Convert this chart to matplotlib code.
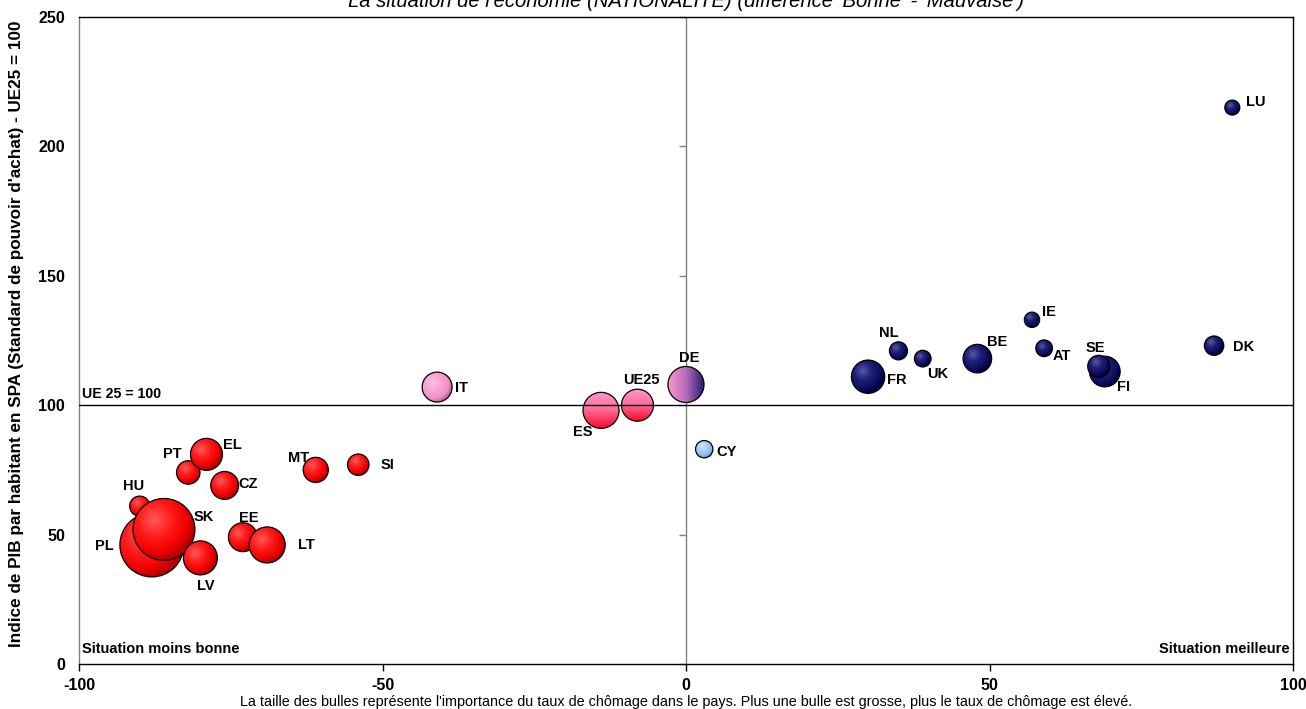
import numpy as np
import matplotlib
matplotlib.use("Agg")
import matplotlib.pyplot as plt
from matplotlib.patches import Ellipse
from matplotlib.colors import to_rgb

plt.rcParams['font.family'] = ['Liberation Sans', 'DejaVu Sans']

# ---------------- data ----------------
countries = ['HU', 'PL', 'SK', 'LV', 'EE', 'LT', 'CZ', 'PT', 'EL', 'MT', 'SI',
             'IT', 'ES', 'UE25', 'DE', 'CY', 'FR', 'NL', 'UK', 'BE', 'IE',
             'AT', 'FI', 'SE', 'DK', 'LU']
economy_diff = [-90, -88, -86, -80, -73, -69, -76, -82, -79, -61, -54,
                -41, -14, -8, 0, 3, 30, 35, 39, 48, 57,
                59, 69, 68, 87, 90]
gdp_index = [61, 46, 52, 41, 49, 46, 69, 74, 81, 75, 77,
             107, 98, 100, 108, 83, 111, 121, 118, 118, 133,
             122, 113, 115, 123, 215]
unemployment = [5.9, 18.8, 18.2, 10.0, 8.5, 10.6, 8.2, 6.9, 9.4, 7.4, 6.3,
                8.8, 10.6, 9.4, 10.6, 5.1, 9.8, 5.3, 4.9, 8.4, 4.5,
                4.9, 9.0, 6.5, 5.7, 4.4]
groups = ['red'] * 11 + ['pink', 'pinkred', 'pinkred', 'pinknavy', 'lightblue'] + ['navy'] * 10

xticks = [-100, -50, 0, 50, 100]
yticks = [0, 50, 100, 150, 200, 250]

title = "La situation de l'économie (NATIONALITE) (différence 'Bonne' - 'Mauvaise')"
ylabel = "Indice de PIB par habitant en SPA (Standard de pouvoir d'achat) - UE25 = 100"
caption = ("La taille des bulles représente l'importance du taux de chômage dans le pays. "
           "Plus une bulle est grosse, plus le taux de chômage est élevé.")

# ---------------- label offsets (pixels) ----------------
label_offsets = {
    'LU': (23, 6), 'DK': (30, -1), 'IE': (17, 8), 'AT': (18, -8), 'SE': (-3, 18),
    'FI': (19, -15), 'BE': (20, 17), 'UK': (15, -15), 'NL': (-10, 18), 'FR': (29, -3),
    'CY': (22, -3), 'DE': (3, 26), 'UE25': (4, 25), 'ES': (-18, -22), 'IT': (24, -1),
    'SI': (29, 0), 'MT': (-17, 12), 'EL': (26, 9), 'PT': (-16, 18), 'CZ': (23, 1),
    'HU': (-6, 20), 'SK': (40, 12), 'PL': (-47, -1), 'LV': (5, -28), 'EE': (6, 19),
    'LT': (39, 0),
}

DPI = 100
fig = plt.figure(figsize=(13.06, 7.09), dpi=DPI)
ax = fig.add_axes([79 / 1306, 1 - 664 / 709, (1293 - 79) / 1306, (664 - 17) / 709])
ax.set_xlim(-100, 100)
ax.set_ylim(0, 250)

bbox = ax.get_window_extent()
px_per_x = bbox.width / 200.0
px_per_y = bbox.height / 250.0
PX_PER_UNIT = 1.7  # bubble radius in pixels per unit of unemployment


def lerp_stops(t, stops):
    t = np.clip(t, 0, 1)
    out = np.zeros(t.shape + (3,))
    pos = [s[0] for s in stops]
    cols = [np.array(to_rgb(s[1])) for s in stops]
    for c in range(3):
        out[..., c] = np.interp(t, pos, [col[c] for col in cols])
    return out


N = 120
uu, vv = np.meshgrid(np.linspace(-1, 1, N), np.linspace(-1, 1, N))


def radial(stops):
    d = np.sqrt((uu + 0.3) ** 2 + (vv - 0.3) ** 2) / 1.3
    return lerp_stops(d, stops)


styles = {
    'red': lambda: radial([(0, '#ff5a5a'), (0.45, '#ff1a1a'), (0.8, '#f00000'), (1, '#b80000')]),
    'navy': lambda: radial([(0, '#5a5aa8'), (0.4, '#202078'), (0.8, '#0c0c60'), (1, '#00003c')]),
    'pink': lambda: radial([(0, '#ffc0e2'), (0.5, '#f8a0d2'), (0.85, '#ee90c4'), (1, '#c86aa0')]),
    'lightblue': lambda: radial([(0, '#d0e8ff'), (0.5, '#a0ccf6'), (0.85, '#88b8ee'), (1, '#5a8ad0')]),
    'pinkred': lambda: lerp_stops((1 - vv) / 2, [(0, '#ff9acb'), (0.5, '#ff6a98'), (1, '#ff0a28')]),
    'pinknavy': lambda: lerp_stops((uu + 1) / 2, [(0, '#ff96cf'), (0.5, '#b46cb8'), (1, '#1c1672')]),
}

for i, name in enumerate(countries):
    cx, cy = economy_diff[i], gdp_index[i]
    r_px = unemployment[i] * PX_PER_UNIT
    rx, ry = r_px / px_per_x, r_px / px_per_y
    z = 3 + i * 0.01
    img = styles[groups[i]]()
    im = ax.imshow(img, extent=(cx - rx, cx + rx, cy - ry, cy + ry), origin='lower',
                   aspect='auto', interpolation='bilinear', zorder=z)
    clip = Ellipse((cx, cy), 2 * rx, 2 * ry, transform=ax.transData, facecolor='none',
                   edgecolor='none')
    ax.add_patch(clip)
    im.set_clip_path(clip)
    ax.add_patch(Ellipse((cx, cy), 2 * rx, 2 * ry, facecolor='none', edgecolor='black',
                         linewidth=0.9, zorder=z + 0.005))
    dx, dy = label_offsets[name]
    ax.annotate(name, (cx, cy), xytext=(dx, dy), textcoords='offset pixels',
                ha='center', va='center', fontsize=10.5, fontweight='bold', zorder=10)

# reset limits (imshow may change them)
ax.set_xlim(-100, 100)
ax.set_ylim(0, 250)

# reference lines
ax.axvline(0, color='#808080', linewidth=1.0, zorder=1)
ax.plot([0] * len(yticks), yticks, linestyle='none', marker=0, markersize=5,
        color='#808080', markeredgewidth=1.0, zorder=1, clip_on=False)
ax.axhline(100, color='black', linewidth=1.0, zorder=8)

# axes styling
ax.set_xticks(xticks)
ax.set_yticks(yticks)
ax.set_xticklabels([str(v) for v in xticks], fontweight='bold', fontsize=11.5)
ax.set_yticklabels([str(v) for v in yticks], fontweight='bold', fontsize=11.5)
ax.tick_params(axis='x', direction='out', length=5, width=1, pad=5, colors='black')
ax.tick_params(axis='y', length=0, pad=10)
for s in ['top', 'right', 'bottom']:
    ax.spines[s].set_color('black')
    ax.spines[s].set_linewidth(1.0)
ax.spines['left'].set_color('#808080')
ax.spines['left'].set_linewidth(1.0)

ax.set_ylabel(ylabel, fontweight='bold', fontsize=12.3)
ax.yaxis.set_label_coords(-(79 - 17) / 1214, (664 - 334) / 647)
ax.yaxis.label.set_va('center')

ax.text(-99.5, 101.5, 'UE 25 = 100', fontweight='bold', fontsize=10.2, ha='left', va='bottom', zorder=9)
ax.text(-99.5, 3, 'Situation moins bonne', fontweight='bold', fontsize=10.5, ha='left', va='bottom', zorder=9)
ax.text(99.5, 3, 'Situation meilleure', fontweight='bold', fontsize=10.5, ha='right', va='bottom', zorder=9)

fig.text(686 / 1306, 1 - 7 / 709, title, style='italic', fontsize=14.6, ha='center', va='baseline')
fig.text(686 / 1306, 1 - 706 / 709, caption, fontsize=10.4, ha='center', va='baseline')

fig.savefig('out.png', dpi=DPI, facecolor='white')
